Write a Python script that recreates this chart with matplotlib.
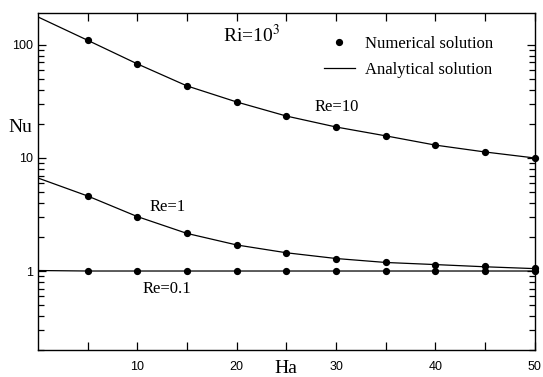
import matplotlib
matplotlib.use("Agg")
import matplotlib.pyplot as plt
from matplotlib.ticker import FixedLocator, LogLocator, NullFormatter

plt.rcParams['mathtext.fontset'] = 'stix'
serif = 'Liberation Serif'
sans = 'Liberation Sans'

# numerical solution points
ha = [5, 10, 15, 20, 25, 30, 35, 40, 45, 50]
nu_re10 = [110, 68, 43.4, 31.3, 23.5, 18.8, 15.7, 13.0, 11.3, 10.0]
nu_re1 = [4.61, 3.03, 2.15, 1.70, 1.45, 1.29, 1.19, 1.14, 1.11, 1.07]
nu_re01 = [1.0, 1.0, 1.0, 1.0, 1.0, 1.0, 1.0, 1.0, 1.0, 1.0]

# analytical solution (starts at Ha=0)
ha_an = [0, 5, 10, 15, 20, 25, 30, 35, 40, 45, 50]
an_re10 = [177, 110, 68, 43.4, 31.3, 23.5, 18.8, 15.7, 13.0, 11.3, 10.0]
an_re1 = [6.65, 4.61, 3.03, 2.15, 1.70, 1.45, 1.29, 1.19, 1.14, 1.09, 1.05]
an_re01 = [1.01, 1.0, 1.0, 1.0, 1.0, 1.0, 1.0, 1.0, 1.0, 1.0, 1.0]

fig = plt.figure(figsize=(5.43, 3.77), dpi=100)
ax = fig.add_axes([0.070, 0.0716, 0.915, 0.894])

for y in (an_re10, an_re1, an_re01):
    ax.plot(ha_an, y, color='black', linewidth=0.9)
for y in (nu_re10, nu_re1, nu_re01):
    ax.plot(ha, y, 'o', color='black', markersize=4.2, clip_on=False)

ax.set_yscale('log')
ax.set_xlim(0, 50)
ax.set_ylim(0.2, 192)

ax.xaxis.set_major_locator(FixedLocator([5, 10, 15, 20, 25, 30, 35, 40, 45, 50]))
ax.set_xticklabels(['', '10', '', '20', '', '30', '', '40', '', '50'], family=sans, fontsize=9)
ax.yaxis.set_major_locator(FixedLocator([1, 10, 100]))
ax.set_yticklabels(['1', '10', '100'], family=sans, fontsize=9)
ax.yaxis.set_minor_locator(LogLocator(base=10, subs=range(2, 10)))
ax.yaxis.set_minor_formatter(NullFormatter())

ax.tick_params(which='both', direction='in', top=True, right=True, width=0.9)
ax.tick_params(which='major', length=6)
ax.tick_params(which='minor', length=4)
ax.tick_params(axis='x', pad=8)
for s in ax.spines.values():
    s.set_linewidth(1.0)

ax.text(-0.035, 0.66, 'Nu', transform=ax.transAxes, family=serif, fontsize=14,
        ha='center', va='center')
ax.text(0.498, -0.055, 'Ha', transform=ax.transAxes, family=serif, fontsize=14,
        ha='center', va='center')

ax.text(0.372, 0.935, r'Ri=10$^3$', transform=ax.transAxes, family=serif, fontsize=14,
        ha='left', va='center')
ax.text(0.557, 0.72, 'Re=10', transform=ax.transAxes, family=serif, fontsize=12,
        ha='left', va='center')
ax.text(0.225, 0.425, 'Re=1', transform=ax.transAxes, family=serif, fontsize=12,
        ha='left', va='center')
ax.text(0.21, 0.18, 'Re=0.1', transform=ax.transAxes, family=serif, fontsize=12,
        ha='left', va='center')

ax.plot([], [], 'o', color='black', markersize=4.2, label='Numerical solution')
ax.plot([], [], color='black', linewidth=0.9, label='Analytical solution')
handles, labels = ax.get_legend_handles_labels()
ax.legend(handles[-2:], labels[-2:], loc='upper right', bbox_to_anchor=(0.93, 0.952),
          frameon=False, prop={'family': serif, 'size': 12}, handlelength=1.9,
          handletextpad=0.6, labelspacing=0.6, borderaxespad=0)

fig.savefig('out.png', dpi=100)
